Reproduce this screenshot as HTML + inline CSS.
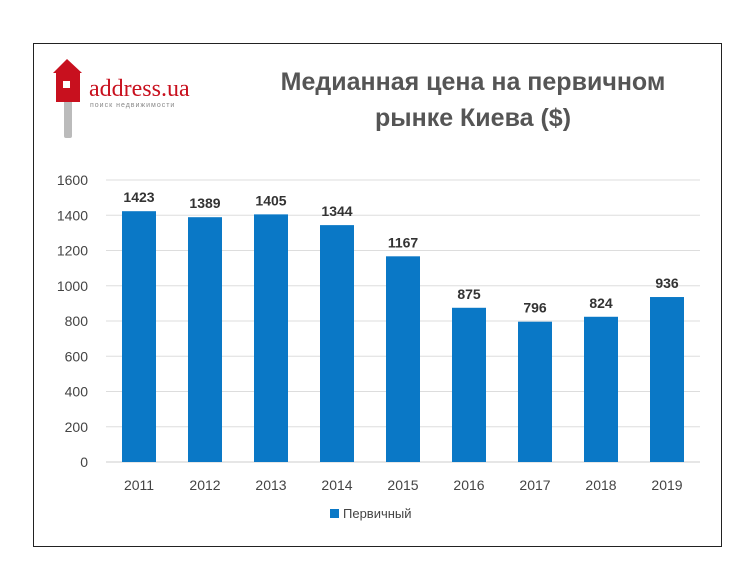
<!DOCTYPE html>
<html><head><meta charset="utf-8"><style>
body{margin:0;background:#fff;width:750px;height:565px;overflow:hidden;font-family:"Liberation Sans","DejaVu Sans",sans-serif}
</style></head><body>
<svg width="750" height="565">
<rect x="33.5" y="43.5" width="688" height="503" fill="#fff" stroke="#222" stroke-width="1"/>
<g>
<rect x="64" y="98" width="8" height="40" fill="#bbb" rx="2"/>
<polygon points="53,73 67,59 82,73" fill="#c8101e"/>
<rect x="56" y="72" width="24" height="30" fill="#c8101e"/>
<rect x="63" y="81" width="7" height="7" fill="#fff"/>
<text x="89" y="96" font-family="Liberation Serif,serif" font-size="24" fill="#c8101e">address.ua</text>
<text x="90" y="107" font-size="7" fill="#888" letter-spacing="1">поиск недвижимости</text>
</g>
<text x="473" y="90" text-anchor="middle" font-size="25" font-weight="bold" fill="#555">Медианная цена на первичном</text>
<text x="473" y="126" text-anchor="middle" font-size="25" font-weight="bold" fill="#555">рынке Киева ($)</text>
<g id="grid"></g><g id="bars"></g>
<g>
<rect x="330" y="509" width="9" height="9" fill="#0a78c6"/>
<text x="343" y="518" font-size="13" fill="#444">Первичный</text>
</g>
</svg>
<script>
const categories=["2011","2012","2013","2014","2015","2016","2017","2018","2019"];
const values=[1423,1389,1405,1344,1167,875,796,824,936];
const ticks=[0,200,400,600,800,1000,1200,1400,1600];
const ns="http://www.w3.org/2000/svg";
const y=v=>462-v*(282/1600);
const x=i=>139+i*66;
function mk(t,a,p,txt){const e=document.createElementNS(ns,t);for(const k in a)e.setAttribute(k,a[k]);if(txt!==undefined)e.textContent=txt;p.appendChild(e);return e;}
const g=document.getElementById('grid'),b=document.getElementById('bars');
ticks.forEach(t=>{
const l=mk('line',{x1:106,x2:700,y1:y(t),y2:y(t),stroke:t?'#ddd':'#ccc','stroke-width':1},g);


const tx=mk('text',{x:88,y:y(t)+5,'text-anchor':'end','font-size':14,fill:'#444'},g,String(t));


});
categories.forEach((c,i)=>{
const r=mk('rect',{x:x(i)-17,y:y(values[i]),width:34,height:462-y(values[i]),fill:'#0a78c6'},b);


const v=mk('text',{x:x(i),y:y(values[i])-9,'text-anchor':'middle','font-size':14,'font-weight':'bold',fill:'#333'},b,String(values[i]));


const cl=mk('text',{x:x(i),y:490,'text-anchor':'middle','font-size':14,fill:'#444'},b,c);


});
</script>
</body></html>
